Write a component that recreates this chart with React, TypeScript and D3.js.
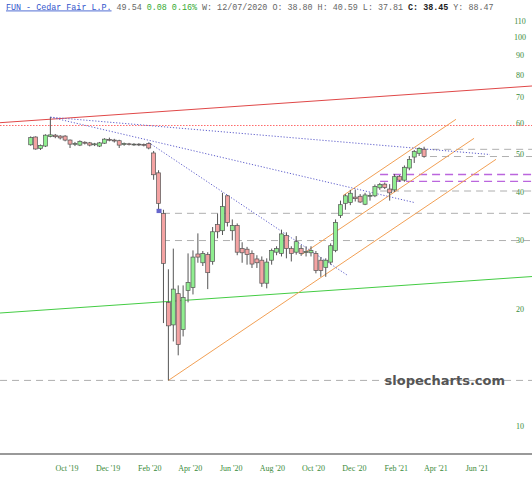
import React from 'react';
import * as d3 from 'd3';

const W = 532;
const H = 480;

// weekly candles, week starting Monday
const firstWeek = new Date(2019, 8, 2);
const lastWeek = new Date(2021, 2, 22);

const opens = [52.9, 55.4, 51.8, 52.5, 55.6, 56.0, 55.7, 55.7, 54.4, 53.1, 52.8, 53.7, 53.5, 52.9, 52.5, 53.4, 54.6, 54.4, 54.2, 53.0, 53.2, 53.0, 53.1, 53.0, 53.3, 50.4, 44.8, 35.2, 20.8, 18.2, 21.9, 17.7, 22.3, 22.7, 27.7, 26.3, 27.6, 26.5, 33.0, 31.8, 39.1, 31.8, 32.8, 28.6, 28.5, 27.8, 26.9, 26.7, 23.3, 26.7, 28.0, 27.8, 30.9, 28.6, 28.0, 28.6, 28.0, 27.9, 27.8, 26.7, 25.6, 26.4, 28.3, 34.8, 37.4, 37.6, 38.80, 39.0, 37.2, 39.0, 39.1, 41.0, 41.9, 40.7, 40.5, 43.9, 42.9, 46.1, 49.2, 50.3, 51.5, 49.0];
const highs = [55.6, 55.6, 53.0, 56.3, 62.3, 56.4, 56.0, 56.0, 54.6, 53.8, 54.3, 54.0, 53.8, 53.5, 53.8, 55.0, 55.2, 54.8, 54.5, 53.6, 53.5, 53.4, 53.4, 53.3, 53.6, 51.0, 45.5, 36.0, 25.3, 28.6, 23.0, 23.0, 27.8, 28.3, 31.3, 28.2, 28.0, 32.5, 35.2, 39.8, 39.3, 34.0, 33.2, 29.7, 28.9, 28.3, 27.5, 27.3, 27.0, 28.6, 29.0, 32.0, 31.5, 29.0, 30.8, 29.2, 29.0, 29.0, 28.2, 27.2, 27.0, 29.5, 34.0, 38.0, 39.5, 40.5, 40.59, 39.5, 39.8, 39.8, 41.8, 42.2, 42.3, 41.9, 44.5, 44.2, 46.8, 49.5, 51.3, 52.1, 52.3, 49.5];
const lows = [52.6, 51.4, 51.3, 52.2, 55.3, 55.0, 54.6, 54.0, 51.9, 52.5, 52.5, 53.0, 52.4, 52.5, 52.2, 53.2, 54.0, 53.6, 51.9, 52.6, 52.7, 52.6, 52.5, 52.4, 51.5, 43.0, 36.0, 18.4, 13.1, 16.5, 15.2, 17.0, 20.8, 21.8, 26.3, 25.8, 22.5, 26.0, 30.4, 31.0, 32.6, 30.0, 27.5, 26.3, 26.0, 25.5, 25.5, 22.8, 22.6, 26.0, 27.5, 27.3, 27.0, 26.5, 27.6, 27.4, 27.3, 27.3, 24.7, 24.2, 24.2, 26.0, 28.0, 34.3, 36.0, 37.0, 37.81, 37.5, 37.0, 38.0, 38.8, 40.5, 40.7, 38.0, 40.0, 42.5, 42.5, 45.5, 47.5, 49.5, 49.0, 45.8];
const closes = [55.2, 51.6, 52.7, 56.0, 56.1, 55.5, 55.1, 54.4, 53.1, 53.3, 54.0, 53.4, 52.8, 53.2, 53.5, 54.7, 54.4, 54.1, 52.8, 53.3, 53.0, 53.1, 52.9, 52.8, 51.9, 44.3, 37.4, 26.2, 18.1, 22.5, 16.2, 21.4, 23.4, 27.2, 27.2, 27.8, 24.8, 31.6, 31.6, 36.7, 33.4, 32.8, 28.0, 27.9, 27.6, 26.1, 26.3, 23.3, 26.4, 28.3, 28.6, 31.2, 28.6, 27.8, 29.8, 27.8, 28.1, 28.3, 25.1, 25.1, 26.7, 29.1, 33.4, 37.1, 39.1, 39.7, 38.45, 37.7, 39.3, 39.2, 41.3, 41.8, 41.1, 39.8, 43.8, 42.9, 46.3, 48.5, 50.8, 51.8, 49.4, 48.6];

const yTicks = [10, 20, 30, 40, 50, 60, 70, 80, 90, 100, 110];
const xTickStart = new Date(2019, 9, 1);
const xTickEnd = new Date(2021, 5, 1);

// drawn trendlines: [weekIndex, price] pairs
const redLine = [[-6.24, 60.3], [101.95, 74.94]];
const greenLine = [[-6.24, 19.53], [101.95, 24.24]];
const redDotted = [[-6.24, 59.3], [101.95, 59.3]];
const orangeLines = [
  [[28, 13.1], [94.63, 48.54]],
  [[55.18, 27.64], [90.16, 54.97]],
  [[63.51, 39.15], [86.49, 61.52]],
];
const blueDotted = [
  [[4, 62.3], [93.41, 49.94]],
  [[4, 62.3], [78.16, 37.54]],
  [[24, 53.6], [64.33, 24.46]],
];
const grayLevels = [
  [-6.24, 13.1],
  [26.9, 35.25],
  [26.9, 30.0],
  [71.05, 40.23],
  [79.2, 51.5],
  [81.2, 49.35],
];
const purpleLevels = [
  [71.05, 44.36],
  [71.05, 42.61],
];
const rightEdgeIdx = 101.95;

export default function App() {
  const dates = d3.timeWeek.range(firstWeek, d3.timeDay.offset(lastWeek, 1));
  const n = closes.length;
  const x = d3.scaleLinear().domain([0, n - 1]).range([30.7, 429]);
  const y = d3.scaleLog().domain([10, 100]).range([426, 37.3]);
  const xt = d3.scaleTime().domain([xTickStart, xTickEnd]).range([67, 477]);
  const xTicks = d3.timeMonth.range(xTickStart, d3.timeDay.offset(xTickEnd, 1), 2);
  const fmt = d3.timeFormat("%b '%y");
  const line = d3.line<number[]>().x((d) => x(d[0])).y((d) => y(d[1]));
  const cw = 4;

  return (
    <svg width={W} height={H} style={{ position: 'absolute', left: 0, top: 0, background: '#fff' }}>
      <rect x={0} y={0} width={W} height={H} fill="#fff" />
      {/* header */}
      <text x={6} y={9.5} fontFamily="'Liberation Mono', monospace" fontSize={8.4} fill="#666" style={{ whiteSpace: 'pre' }}>
        <tspan fill="#3355cc" textDecoration="underline">FUN - Cedar Fair L.P.</tspan>
        <tspan>{' 49.54 '}</tspan>
        <tspan fill="#33aa33">{'0.08 0.16%'}</tspan>
        <tspan>{' W: 12/07/2020 O: 38.80 H: 40.59 L: 37.81 '}</tspan>
        <tspan fill="#222" fontWeight="bold">{'C: 38.45'}</tspan>
        <tspan>{' Y: 88.47'}</tspan>
      </text>

      {/* y labels */}
      {yTicks.map((t) => (
        <text key={t} x={520} y={y(t)} dy="0.35em" textAnchor="middle" fontFamily="'Liberation Serif', serif" fontSize={8} fill="#3a8a3a">
          {t}
        </text>
      ))}

      {/* horizontal levels */}
      {grayLevels.map((g, i) => (
        <line key={'g' + i} x1={x(g[0])} x2={x(rightEdgeIdx)} y1={y(g[1])} y2={y(g[1])} stroke="#9a9a9a" strokeWidth={0.8} strokeDasharray="7,5" />
      ))}
      {purpleLevels.map((g, i) => (
        <line key={'p' + i} x1={x(g[0])} x2={x(rightEdgeIdx)} y1={y(g[1])} y2={y(g[1])} stroke="#bb66dd" strokeWidth={1.3} strokeDasharray="8,5" />
      ))}
      <path d={line(redDotted as number[][])!} stroke="#ff6a6a" strokeWidth={1.2} strokeDasharray="1.5,1.5" fill="none" />

      {/* trendlines */}
      <path d={line(redLine as number[][])!} stroke="#e04848" strokeWidth={1} fill="none" />
      <path d={line(greenLine as number[][])!} stroke="#44cc44" strokeWidth={1} fill="none" />
      {orangeLines.map((l, i) => (
        <path key={'o' + i} d={line(l as number[][])!} stroke="#f2a055" strokeWidth={1} fill="none" />
      ))}
      {blueDotted.map((l, i) => (
        <path key={'b' + i} d={line(l as number[][])!} stroke="#6060cc" strokeWidth={1} strokeDasharray="1.2,1.8" fill="none" />
      ))}

      {/* watermark */}
      <text x={505} y={y(13.1) + 5} textAnchor="end" fontFamily="'DejaVu Sans', sans-serif" fontWeight="bold" fontSize={13} fill="#555">
        slopecharts.com
      </text>

      {/* candles */}
      {dates.slice(0, n).map((d, i) => {
        const o = opens[i], c = closes[i], h = highs[i], l = lows[i];
        const up = c >= o;
        const top = y(Math.max(o, c));
        const bot = y(Math.min(o, c));
        return (
          <g key={i}>
            <line x1={x(i)} x2={x(i)} y1={y(h)} y2={y(l)} stroke="#555" strokeWidth={1} />
            <rect x={x(i) - cw / 2} y={top} width={cw} height={Math.max(bot - top, 0.8)} fill={up ? '#90ee90' : '#f4a3a3'} stroke="#555" strokeWidth={0.7} />
          </g>
        );
      })}
      {/* marker */}
      <rect x={x(26) - 2} y={y(36.2)} width={5} height={y(35.3) - y(36.2)} fill="#6666cc" />

      {/* bottom axis */}
      <line x1={0} x2={W} y1={454} y2={454} stroke="#999" strokeWidth={2} />
      {xTicks.map((t, i) => (
        <text key={i} x={xt(t)} y={468} dy="0.35em" textAnchor="middle" fontFamily="'Liberation Serif', serif" fontSize={8} fill="#3a8a3a">
          {fmt(t)}
        </text>
      ))}
    </svg>
  );
}
